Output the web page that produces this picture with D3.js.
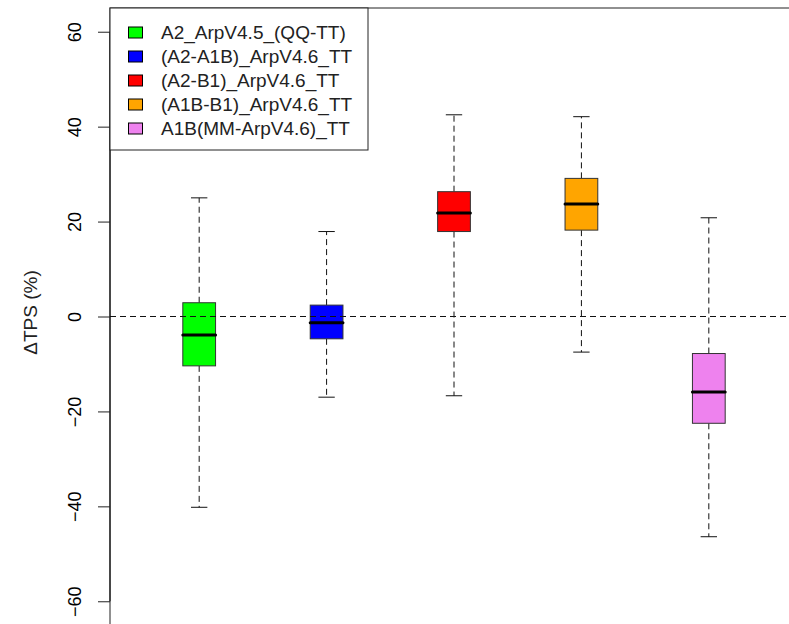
<!DOCTYPE html>
<html>
<head>
<meta charset="utf-8">
<script src="https://cdn.jsdelivr.net/npm/d3@7"></script>
<style>
  html, body { margin: 0; padding: 0; background: #fff; overflow: hidden; }
  text { font-family: "Liberation Sans", Arial, sans-serif; fill: #000; }
</style>
</head>
<body>
<script>
// series
const labels = ["A2_ArpV4.5_(QQ-TT)", "(A2-A1B)_ArpV4.6_TT", "(A2-B1)_ArpV4.6_TT", "(A1B-B1)_ArpV4.6_TT", "A1B(MM-ArpV4.6)_TT"];
const colors = ["#00ff00", "#0000ff", "#ff0000", "#ffa500", "#ee82ee"];
const whiskerLow = [-40.2, -17.0, -16.7, -7.5, -46.4];
const q1 = [-10.4, -4.7, 17.9, 18.2, -22.5];
const medians = [-3.9, -1.3, 21.8, 23.7, -15.9];
const q3 = [2.9, 2.4, 26.3, 29.1, -7.8];
const whiskerHigh = [25.0, 17.9, 42.5, 42.1, 20.8];
const yTicks = [-60, -40, -20, 0, 20, 40, 60];

const W = 789, H = 624;
const plot = { left: 110, top: 8, right: 798, bottom: 625 };

const boxes = labels.map((d, i) => ({
	label: d,
	color: colors[i],
	pos: i + 1,
	lo: whiskerLow[i], q1: q1[i], med: medians[i], q3: q3[i], hi: whiskerHigh[i]
}));

const svg = d3.select("body").append("svg")
	.attr("width", W)
	.attr("height", H);

const x = d3.scaleLinear()
	.domain([0.3, 5.7])
	.range([plot.left, plot.right]);

const y = d3.scaleLinear()
	.domain([-65, 65])
	.range([plot.bottom, plot.top]);

const boxW = x(1.257) - x(1);

// whiskers (dashed) and caps
const g = svg.append("g");

boxes.forEach(b => {
	const cx = x(b.pos);
	g.append("line")
		.attr("x1", cx).attr("x2", cx)
		.attr("y1", y(b.q3)).attr("y2", y(b.hi))
		.attr("stroke", "#111").attr("stroke-dasharray", "6,4");
	g.append("line")
		.attr("x1", cx).attr("x2", cx)
		.attr("y1", y(b.q1)).attr("y2", y(b.lo))
		.attr("stroke", "#111").attr("stroke-dasharray", "6,4");
	[b.hi, b.lo].forEach(v => {
		g.append("line")
			.attr("x1", cx - boxW / 4).attr("x2", cx + boxW / 4)
			.attr("y1", y(v)).attr("y2", y(v))
			.attr("stroke", "#111");
	});
	g.append("rect")
		.attr("x", cx - boxW / 2)
		.attr("y", y(b.q3))
		.attr("width", boxW)
		.attr("height", y(b.q1) - y(b.q3))
		.attr("fill", b.color)
		.attr("stroke", "#333");
	g.append("line")
		.attr("x1", cx - boxW / 2).attr("x2", cx + boxW / 2)
		.attr("y1", y(b.med)).attr("y2", y(b.med))
		.attr("stroke", "#000")
		.attr("stroke-width", 3)
		.attr("stroke-linecap", "round");
});

// zero reference line
svg.append("line")
	.attr("x1", plot.left).attr("x2", plot.right)
	.attr("y1", y(0)).attr("y2", y(0))
	.attr("stroke", "#111")
	.attr("stroke-dasharray", "6,4");

// frame
svg.append("rect")
	.attr("x", plot.left).attr("y", plot.top)
	.attr("width", plot.right - plot.left)
	.attr("height", plot.bottom - plot.top)
	.attr("fill", "none")
	.attr("stroke", "#222");

// y axis
const yAxis = svg.append("g")
	.attr("transform", `translate(${plot.left},0)`)
	.call(d3.axisLeft(y).tickValues(yTicks).tickSize(12).tickSizeOuter(0).tickFormat(d3.format("d")));

yAxis.select(".domain")
	.attr("d", `M0,${y(-60)}V${y(60)}`);

yAxis.selectAll(".tick line").attr("stroke", "#222");

yAxis.selectAll(".tick text")
	.attr("x", null)
	.attr("dy", "0.35em")
	.attr("transform", "translate(-35,0) rotate(-90)")
	.attr("text-anchor", "middle")
	.style("font-size", "18px")
	.style("font-family", "'Liberation Sans', Arial, sans-serif")
	.attr("fill", "#222");

svg.append("text")
	.attr("transform", `translate(30,${(plot.top + plot.bottom) / 2 - 4}) rotate(-90)`)
	.attr("dy", "0.35em")
	.attr("text-anchor", "middle")
	.style("font-size", "19px")
	.style("fill", "#222")
	.text("\u0394TPS (%)");

// legend
const legend = svg.append("g");

legend.append("rect")
	.attr("x", plot.left).attr("y", plot.top)
	.attr("width", 258).attr("height", 142)
	.attr("fill", "#fff")
	.attr("stroke", "#222");

boxes.forEach((b, i) => {
	const cy = 32 + i * 24;
	legend.append("rect")
		.attr("x", 128.5).attr("y", cy - 5)
		.attr("width", 14).attr("height", 11)
		.attr("fill", b.color)
		.attr("stroke", "#000");
	legend.append("text")
		.attr("x", 161)
		.attr("y", cy)
		.attr("dy", "0.35em")
		.style("font-size", "19px")
		.style("fill", "#222")
		.text(b.label);
});
</script>
</body>
</html>
